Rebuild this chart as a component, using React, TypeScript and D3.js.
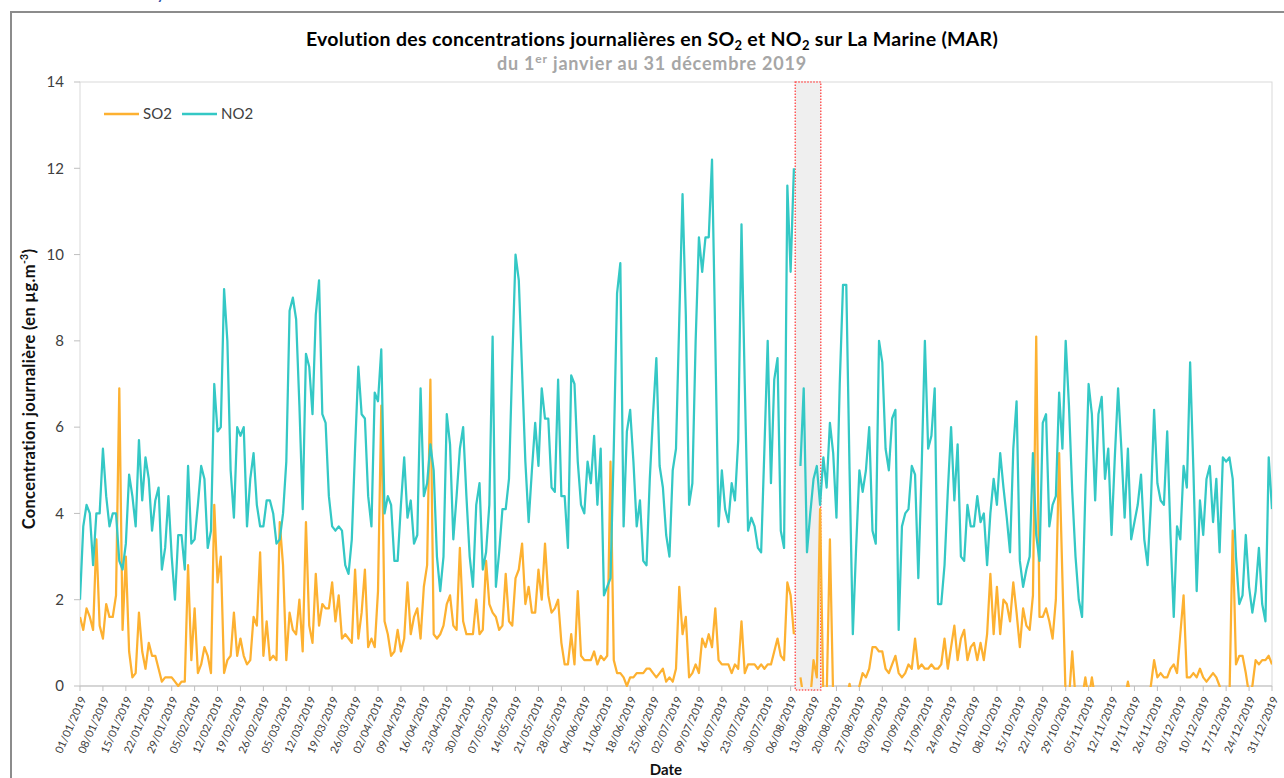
import React from 'react';
import * as d3 from 'd3';

// daily means, 01/01/2019 -> 31/12/2019 (one row = one week)
const so2Values: (number | null)[] = [
  1.6, 1.3, 1.8, 1.6, 1.3, 3.4, 1.4,
  1.1, 1.9, 1.6, 1.6, 2.1, 6.9, 1.3,
  3.0, 0.8, 0.2, 0.3, 1.7, 0.8, 0.4,
  1.0, 0.7, 0.7, 0.4, 0.1, 0.2, 0.2,
  0.2, 0.1, 0.0, 0.1, 0.1, 2.8, 0.6,
  1.8, 0.3, 0.5, 0.9, 0.7, 0.3, 4.2,
  2.4, 3.0, 0.3, 0.6, 0.7, 1.7, 0.7,
  1.1, 0.7, 0.5, 0.6, 1.6, 1.4, 3.1,
  0.7, 1.5, 0.6, 0.7, 0.6, 3.8, 2.8,
  0.6, 1.7, 1.3, 1.2, 2.0, 0.8, 3.8,
  1.4, 1.0, 2.6, 1.4, 1.9, 1.8, 1.8,
  2.4, 1.5, 2.1, 1.1, 1.2, 1.1, 1.0,
  2.7, 1.1, 1.7, 2.7, 0.9, 1.1, 0.9,
  2.2, 6.5, 1.5, 1.2, 0.7, 0.8, 1.3,
  0.8, 1.1, 2.4, 1.2, 1.6, 1.8, 1.1,
  2.3, 2.8, 7.1, 1.2, 1.1, 1.2, 1.4,
  1.9, 2.1, 1.4, 1.3, 3.2, 1.5, 1.2,
  1.2, 1.2, 2.0, 1.2, 1.3, 2.9, 1.9,
  1.7, 1.6, 1.3, 1.4, 2.6, 1.5, 1.4,
  2.5, 2.7, 3.3, 1.9, 2.3, 1.7, 1.7,
  2.7, 2.0, 3.3, 2.1, 1.7, 1.8, 2.0,
  1.0, 0.5, 0.5, 1.2, 0.5, 2.2, 0.7,
  0.6, 0.6, 0.6, 0.8, 0.5, 0.7, 0.6,
  0.7, 5.2, 0.6, 0.3, 0.3, 0.2, 0.0,
  0.2, 0.2, 0.3, 0.3, 0.3, 0.4, 0.4,
  0.3, 0.2, 0.3, 0.4, 0.1, 0.2, 0.1,
  0.4, 2.3, 1.2, 1.6, 0.2, 0.3, 0.5,
  0.3, 1.1, 0.9, 1.2, 0.9, 1.8, 0.6,
  0.5, 0.5, 0.5, 0.3, 0.5, 0.4, 1.5,
  0.3, 0.5, 0.5, 0.5, 0.4, 0.5, 0.4,
  0.5, 0.5, 0.8, 1.1, 0.7, 0.6, 2.4,
  2.1, 1.2, null, 0.2, -0.3, -0.3, -0.3,
  0.6, 0.2, 4.1, -0.3, -0.3, 3.4, -0.3,
  -0.3, -0.3, -0.3, -0.3, 0.05, -0.3, -0.3,
  0.0, 0.3, 0.2, 0.4, 0.9, 0.9, 0.8,
  0.8, 0.4, 0.3, 0.5, 0.7, 0.3, 0.2,
  0.3, 0.5, 0.4, 1.1, 0.4, 0.5, 0.4,
  0.4, 0.5, 0.4, 0.4, 0.5, 1.1, 0.4,
  0.9, 1.4, 0.6, 1.1, 1.3, 0.6, 0.9,
  1.0, 0.6, 1.0, 0.6, 1.2, 2.6, 1.2,
  2.3, 1.2, 2.0, 1.9, 1.5, 2.4, 1.7,
  0.9, 1.8, 1.4, 1.3, 2.1, 8.1, 1.6,
  1.6, 1.8, 1.5, 1.1, 2.0, 5.4, 2.5,
  -0.3, -0.3, 0.8, -0.3, -0.3, -0.3, 0.2,
  -0.3, 0.2, -0.3, -0.3, -0.3, -0.3, -0.3,
  -0.3, -0.3, -0.3, -0.3, -0.3, 0.1, -0.3,
  -0.3, -0.3, -0.3, -0.3, -0.3, 0.0, 0.6,
  0.2, 0.3, 0.2, 0.2, 0.4, 0.5, 0.3,
  1.2, 2.1, 0.2, 0.2, 0.3, 0.2, 0.4,
  0.2, 0.1, 0.2, 0.3, 0.2, 0.0, -0.3,
  -0.3, -0.3, 3.6, 0.5, 0.7, 0.7, 0.3,
  -0.2, 0.0, 0.6, 0.5, 0.6, 0.6, 0.7,
  0.5,
];

const no2Values: (number | null)[] = [
  2.0, 3.7, 4.2, 4.0, 2.8, 4.0, 4.0,
  5.5, 4.4, 3.7, 4.0, 4.0, 2.9, 2.7,
  3.3, 4.9, 4.4, 3.7, 5.7, 4.3, 5.3,
  4.8, 3.6, 4.3, 4.6, 2.7, 3.2, 4.4,
  3.0, 2.0, 3.5, 3.5, 2.7, 5.1, 3.3,
  3.4, 4.2, 5.1, 4.8, 3.2, 3.6, 7.0,
  5.9, 6.0, 9.2, 8.0, 5.0, 3.9, 6.0,
  5.8, 6.0, 3.7, 4.8, 5.4, 4.2, 3.7,
  3.7, 4.3, 4.3, 4.0, 3.3, 3.4, 4.0,
  5.2, 8.7, 9.0, 8.5, 6.5, 4.1, 7.7,
  7.4, 6.3, 8.6, 9.4, 6.3, 6.1, 4.4,
  3.7, 3.6, 3.7, 3.6, 2.8, 2.6, 3.4,
  5.5, 7.4, 6.3, 6.2, 4.4, 3.7, 6.8,
  6.6, 7.8, 4.0, 4.4, 4.2, 2.9, 2.9,
  4.2, 5.3, 3.9, 4.3, 3.3, 3.5, 6.9,
  4.4, 4.7, 5.6, 5.0, 3.0, 2.2, 3.0,
  6.3, 5.6, 3.4, 4.4, 5.5, 6.0, 4.4,
  3.0, 2.3, 4.2, 4.7, 2.7, 3.1, 4.2,
  8.1, 2.3, 3.1, 4.1, 4.1, 4.8, 7.5,
  10.0, 9.4, 7.3, 5.2, 3.8, 5.0, 6.1,
  5.1, 6.9, 6.2, 6.2, 4.6, 4.5, 7.1,
  4.4, 4.4, 3.2, 7.2, 7.0, 5.2, 4.2,
  4.0, 5.2, 4.7, 5.8, 4.2, 5.5, 2.1,
  2.3, 2.5, 5.5, 9.1, 9.8, 3.7, 5.9,
  6.4, 5.2, 3.7, 4.3, 2.9, 2.8, 4.8,
  6.3, 7.6, 5.1, 4.6, 3.5, 3.0, 5.0,
  5.5, 8.5, 11.4, 8.6, 4.2, 4.7, 8.0,
  10.4, 9.6, 10.4, 10.4, 12.2, 8.0, 3.7,
  5.0, 4.1, 3.8, 4.7, 4.3, 5.7, 10.7,
  7.0, 3.6, 3.9, 3.7, 3.2, 3.1, 5.5,
  8.0, 4.7, 7.1, 7.6, 3.6, 3.2, 11.6,
  9.6, 12.0, null, 5.1, 6.9, 3.1, 4.0,
  4.8, 5.1, 4.2, 5.3, 4.6, 6.1, 5.4,
  3.9, 7.0, 9.3, 9.3, 5.0, 1.2, 3.2,
  5.0, 4.5, 5.0, 6.0, 3.6, 3.3, 8.0,
  7.5, 5.5, 5.0, 6.2, 6.4, 1.3, 3.7,
  4.0, 4.1, 5.1, 4.9, 2.5, 5.0, 8.0,
  5.5, 5.8, 6.9, 1.9, 1.9, 2.8, 4.5,
  6.0, 4.3, 5.6, 3.0, 2.9, 4.2, 3.7,
  3.7, 4.4, 3.8, 4.0, 2.8, 4.0, 4.8,
  4.2, 5.4, 4.6, 3.9, 3.1, 5.5, 6.6,
  2.9, 2.3, 2.7, 3.0, 5.4, 3.5, 2.9,
  6.1, 6.3, 3.7, 4.2, 4.4, 6.8, 5.5,
  8.0, 6.5, 4.5, 3.0, 2.0, 1.6, 4.5,
  7.0, 6.3, 4.3, 6.3, 6.7, 4.8, 5.5,
  3.5, 5.3, 6.9, 5.5, 3.9, 5.5, 3.4,
  3.8, 4.2, 4.9, 3.4, 2.8, 4.2, 6.4,
  4.7, 4.3, 4.2, 5.9, 3.5, 1.6, 3.7,
  3.4, 5.1, 4.6, 7.5, 5.0, 2.2, 4.3,
  3.5, 4.8, 5.1, 3.8, 4.8, 3.1, 5.3,
  5.2, 5.3, 4.8, 3.0, 1.9, 2.1, 3.5,
  2.3, 1.7, 2.2, 3.2, 1.9, 1.5, 5.3,
  4.1,
];

const seriesNames = ['SO2', 'NO2'];
const seriesColors = ['#FDB131', '#34C8C5'];
const yTicks = [0, 2, 4, 6, 8, 10, 12, 14];
const firstDay = new Date(Date.UTC(2019, 0, 1));
// grey band (missing week in August)
const bandFrom = new Date(Date.UTC(2019, 7, 7, 10));
const bandTo = new Date(Date.UTC(2019, 7, 15, 5));

const W = 1284;
const H = 778;
const plot = { left: 80, right: 1272, top: 82, bottom: 686 };
const FONT = 'Lato, "Open Sans", sans-serif';

const App = () => {
  const dates = so2Values.map((_, i) => d3.utcDay.offset(firstDay, i));
  const weekTicks = d3.range(0, dates.length, 7).map(i => dates[i]);
  const fmt = d3.utcFormat('%d/%m/%Y');

  const x = d3.scaleUtc()
    .domain([dates[0], dates[dates.length - 1]])
    .range([plot.left, plot.right]);
  const y = d3.scaleLinear()
    .domain([0, 14])
    .range([plot.bottom, plot.top]);

  const line = d3.line<number | null>()
    .defined(v => v != null)
    .x((_, i) => x(dates[i]))
    .y(v => y(v as number));

  const series = [so2Values, no2Values];

  return (
    <div style={{ position: 'fixed', left: 0, top: 0 }}>
      <svg width={W} height={H} style={{ display: 'block', background: '#fff' }} fontFamily={FONT}>
        <defs>
          <clipPath id="plotClip">
            <rect x={plot.left} y={plot.top} width={plot.right - plot.left} height={plot.bottom - plot.top + 1} />
          </clipPath>
        </defs>

        {/* bit of the page heading above the frame */}
        <text x={156} y={-1} fontSize={20} fill="#3050a8">y</text>

        {/* outer frame */}
        <path d={`M11,${H} V12 H${W}`} fill="none" stroke="#8c8c8c" strokeWidth={2} />

        {/* titles */}
        <text x={652} y={46} textAnchor="middle" fontSize={19.5} letterSpacing={0.3} fontWeight="bold" fill="#000">
          Evolution des concentrations journalières en SO<tspan fontSize={13} dy={4}>2</tspan>
          <tspan dy={-4}> et NO</tspan><tspan fontSize={13} dy={4}>2</tspan>
          <tspan dy={-4}> sur La Marine (MAR)</tspan>
        </text>
        <text x={652} y={70} textAnchor="middle" fontSize={18} letterSpacing={0.8} fontWeight="bold" fill="#a6a6a6">
          du 1<tspan fontSize={12} dy={-7}>er</tspan><tspan dy={7}> janvier au 31 décembre 2019</tspan>
        </text>

        {/* plot area border */}
        <rect x={plot.left} y={plot.top} width={plot.right - plot.left} height={plot.bottom - plot.top}
          fill="none" stroke="#d9d9d9" strokeWidth={1} />

        {/* y axis */}
        {yTicks.map(t => (
          <g key={t}>
            <line x1={plot.left - 6} x2={plot.left} y1={y(t)} y2={y(t)} stroke="#bfbfbf" />
            <text x={plot.left - 16} y={y(t)} dy="0.35em" textAnchor="end" fontSize={15} fill="#404040">{t}</text>
          </g>
        ))}
        <text transform={`translate(35,${(plot.top + plot.bottom) / 2 + 5}) rotate(-90)`} textAnchor="middle"
          fontSize={16.5} letterSpacing={0.3} fontWeight="bold" fill="#111">
          Concentration journalière (en µg.m<tspan fontSize={10.5} dy={-7}>-3</tspan><tspan dy={7}>)</tspan>
        </text>

        {/* x axis */}
        <line x1={plot.left} x2={plot.right} y1={plot.bottom} y2={plot.bottom} stroke="#bfbfbf" />
        {weekTicks.map(d => (
          <g key={+d}>
            <line x1={x(d)} x2={x(d)} y1={plot.bottom} y2={plot.bottom + 5} stroke="#bfbfbf" />
            <text transform={`translate(${x(d) + 3},${plot.bottom + 11}) rotate(-66)`} textAnchor="end"
              dy="0.35em" fontSize={11} fill="#404040">{fmt(d)}</text>
          </g>
        ))}
        <text x={666} y={775} textAnchor="middle" fontSize={15} fontWeight="bold" fill="#111">Date</text>

        {/* highlighted period */}
        <rect x={x(bandFrom)} y={plot.top} width={x(bandTo) - x(bandFrom)} height={plot.bottom - plot.top + 4}
          fill="#efefef" stroke="#ff5a5a" strokeWidth={1.5} strokeDasharray="1.5,1.5" />

        {/* series */}
        <g clipPath="url(#plotClip)">
          {series.map((vals, k) => (
            <path key={seriesNames[k]} d={line(vals) || ''} fill="none" stroke={seriesColors[k]}
              strokeWidth={2.25} strokeLinejoin="round" />
          ))}
        </g>

        {/* legend */}
        {seriesNames.map((name, k) => {
          const lx = 104 + k * 78;
          return (
            <g key={name}>
              <line x1={lx} x2={lx + 35} y1={114} y2={114} stroke={seriesColors[k]} strokeWidth={2.5} />
              <text x={lx + 39} y={114} dy="0.35em" fontSize={15} fill="#404040">{name}</text>
            </g>
          );
        })}
      </svg>
    </div>
  );
};

export default App;
